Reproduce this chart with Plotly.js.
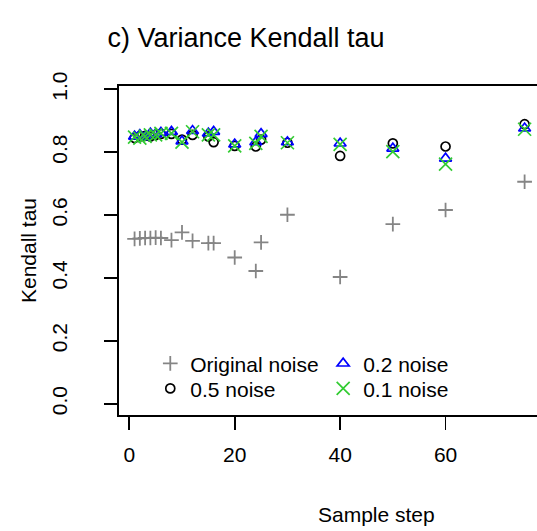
<!DOCTYPE html>
<html>
<head>
<meta charset="utf-8">
<script src="https://cdn.plot.ly/plotly-3.0.1.min.js"></script>
<style>html,body{margin:0;padding:0;background:#fff;}#chart{width:537px;height:531px;}</style>
</head>
<body>
<div id="chart"></div>
<script>
// Data
const steps = [1, 2, 3, 4, 5, 6, 8, 10, 12, 15, 16, 20, 24, 25, 30, 40, 50, 60, 75];
const originalNoise = [0.524, 0.526, 0.527, 0.527, 0.528, 0.527, 0.520, 0.545, 0.518, 0.511, 0.511, 0.465, 0.422, 0.513, 0.601, 0.403, 0.571, 0.616, 0.706];
const noise05 = [0.845, 0.850, 0.852, 0.850, 0.855, 0.858, 0.858, 0.840, 0.855, 0.850, 0.832, 0.820, 0.818, 0.840, 0.830, 0.788, 0.828, 0.818, 0.889];
const noise02 = [0.850, 0.855, 0.848, 0.860, 0.858, 0.862, 0.865, 0.835, 0.868, 0.860, 0.865, 0.825, 0.832, 0.858, 0.832, 0.828, 0.812, 0.780, 0.876];
const noise01 = [0.848, 0.845, 0.850, 0.855, 0.855, 0.860, 0.860, 0.832, 0.865, 0.855, 0.855, 0.820, 0.828, 0.850, 0.830, 0.825, 0.802, 0.762, 0.873];
const seriesNames = ["Original noise", "0.5 noise", "0.2 noise", "0.1 noise"];
const xTicks = [0, 20, 40, 60];
const yTicks = [0, 0.2, 0.4, 0.6, 0.8, 1.0];

const FONT = "Liberation Sans, Arial, Helvetica, sans-serif";
const W = 537, H = 531;
const PL = 118.7, PT = 86, PB = 414.7;   // plot box edges in pixels
const px2x = px => (px - PL) / (W - PL);
const py2y = py => (PB - py) / (PB - PT);

const traces = [
  {x: steps, y: originalNoise, name: seriesNames[0], type: "scatter", mode: "markers", legend: "legend",
   marker: {symbol: "cross-thin-open", size: 10.5, color: "#858585", line: {color: "#858585", width: 1.8}}},
  {x: steps, y: noise05, name: seriesNames[1], type: "scatter", mode: "markers", legend: "legend3",
   marker: {symbol: "circle-open", size: 9, color: "#000000", line: {color: "#000000", width: 1.7}}},
  {x: steps, y: noise02, name: seriesNames[2], type: "scatter", mode: "markers", legend: "legend2",
   marker: {symbol: "triangle-up-open", size: 10.5, color: "#0000FF", line: {color: "#0000FF", width: 1.7}}},
  {x: steps, y: noise01, name: seriesNames[3], type: "scatter", mode: "markers", legend: "legend4",
   marker: {symbol: "x-thin-open", size: 13, color: "#33CC33", line: {color: "#33CC33", width: 1.7}}}
];

const legendCommon = {
  xref: "paper", yref: "paper", xanchor: "left", yanchor: "top",
  bgcolor: "rgba(0,0,0,0)", borderwidth: 0, tracegroupgap: 0,
  font: {family: FONT, size: 21, color: "#000"}
};
const col1 = 150, col2 = 323, row1 = 343, row2 = 368;

const layout = {
  width: W, height: H,
  paper_bgcolor: "#fff", plot_bgcolor: "#fff",
  margin: {l: PL, r: 0, t: PT, b: H - PB, pad: 0},
  font: {family: FONT, size: 21, color: "#000"},
  title: {text: "c) Variance Kendall tau", xref: "container", yref: "container",
          x: 246 / W, xanchor: "center", y: 1 - 38 / H, yanchor: "middle",
          font: {family: FONT, size: 27, color: "#000"}},
  xaxis: {range: [-1.953, 77.35], tickvals: xTicks, ticktext: xTicks.map(String),
          ticks: "outside", ticklen: 13, tickwidth: 1.8, tickcolor: "#000",
          showline: true, mirror: true, linecolor: "#000", linewidth: 1.8,
          showgrid: false, zeroline: false, ticklabelstandoff: 7,
          tickfont: {family: FONT, size: 21, color: "#000"}},
  yaxis: {range: [-0.036, 1.0105], tickvals: yTicks, ticktext: yTicks.map(v => v.toFixed(1)),
          ticks: "outside", ticklen: 13, tickwidth: 1.8, tickcolor: "#000",
          showline: true, mirror: false, linecolor: "#000", linewidth: 1.8,
          showgrid: false, zeroline: false, tickangle: -90, ticklabelstandoff: 29,
          tickfont: {family: FONT, size: 21, color: "#000"},
          title: {text: "Kendall tau", standoff: 5, font: {family: FONT, size: 21, color: "#000"}}},
  legend: Object.assign({}, legendCommon, {x: px2x(col1), y: py2y(row1)}),
  legend2: Object.assign({}, legendCommon, {x: px2x(col2), y: py2y(row1)}),
  legend3: Object.assign({}, legendCommon, {x: px2x(col1), y: py2y(row2)}),
  legend4: Object.assign({}, legendCommon, {x: px2x(col2), y: py2y(row2)}),
  annotations: [
    {text: "Sample step", xref: "paper", yref: "paper", x: px2x(376), y: py2y(514),
     xanchor: "center", yanchor: "middle", showarrow: false, font: {family: FONT, size: 21, color: "#000"}}
  ],
  showlegend: true
};

Plotly.newPlot("chart", traces, layout, {displayModeBar: false, staticPlot: true});
</script>
</body>
</html>
